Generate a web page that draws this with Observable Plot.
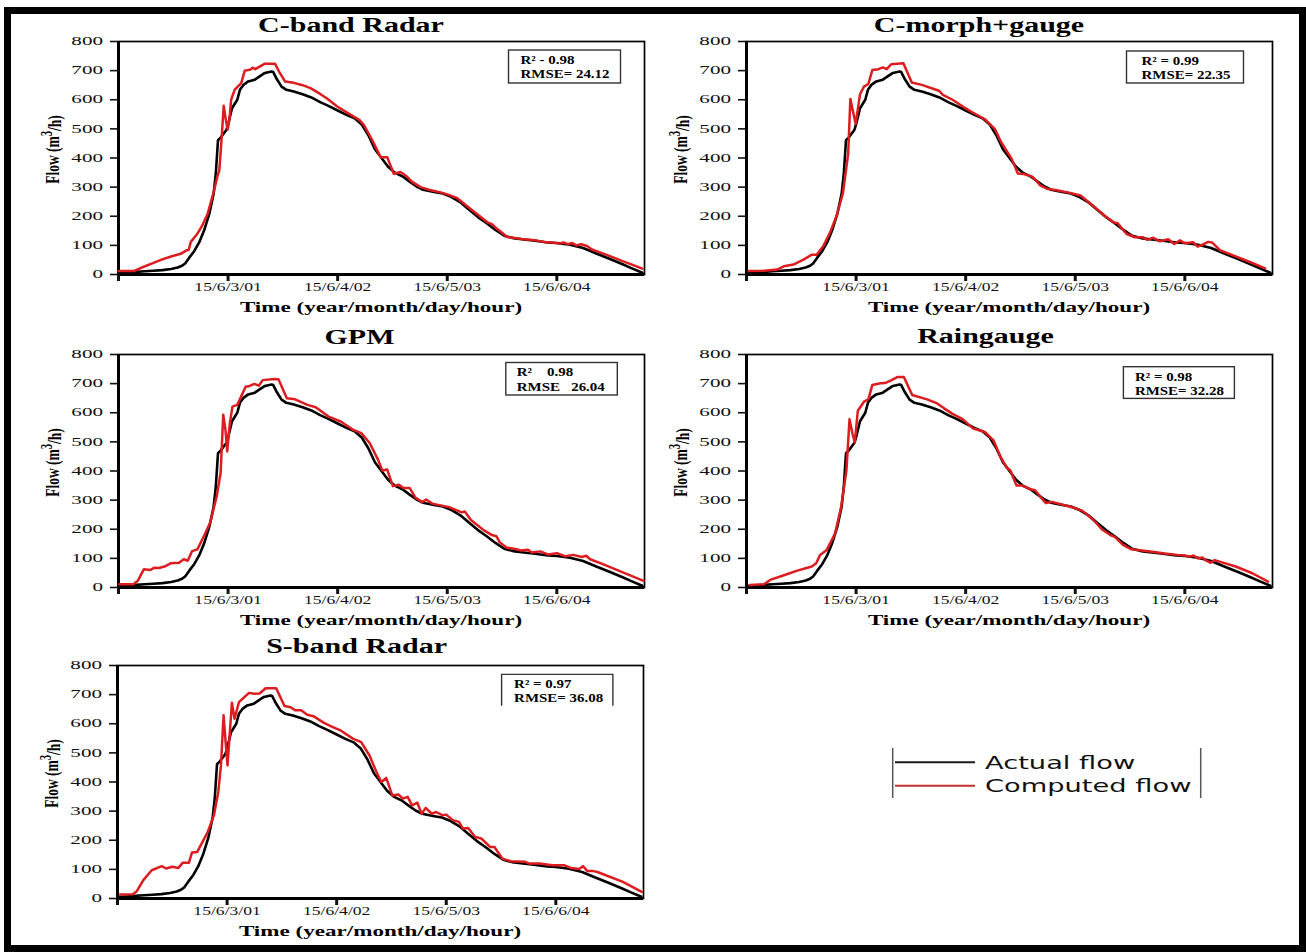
<!DOCTYPE html>
<html>
<head>
<meta charset="utf-8">
<script src="https://cdn.jsdelivr.net/npm/d3@7"></script>
<script src="https://cdn.jsdelivr.net/npm/@observablehq/plot@0.6"></script>
<style>
  html, body { margin: 0; padding: 0; background: #fff; }
  #page { position: relative; width: 1306px; height: 952px; overflow: hidden; background: #fff; }
  #border { position: absolute; left: 4px; top: 7px; width: 1302px; height: 945px; border: 7px solid #000; box-sizing: border-box; }
  .panel { position: absolute; }
  #legend { position: absolute; left: 0; top: 0; }
</style>
</head>
<body>
<div id="page"><div id="border"></div></div>
<script>
// ---------------- DATA ----------------
const titles = ["C-band Radar", "C-morph+gauge", "GPM", "Raingauge", "S-band Radar"];
const r2Labels = ["R\u00B2 - 0.98", "R\u00B2 = 0.99", "R\u00B2    0.98", "R\u00B2 = 0.98", "R\u00B2 = 0.97"];
const rmseLabels = ["RMSE= 24.12", "RMSE= 22.35", "RMSE   26.04", "RMSE= 32.28", "RMSE= 36.08"];
const xTickHours = [0, 25, 50, 75, 100];
const xTickLabels = ["", "15/6/3/01", "15/6/4/02", "15/6/5/03", "15/6/6/04"];
const yTicks = [0, 100, 200, 300, 400, 500, 600, 700, 800];
const legendLabels = ["Actual flow", "Computed flow"];

// [hour since start, flow m3/h]
const actualFlow = [[0,5],[2,7],[4,9],[6,11],[8,13],[10,15],[12,19],[13.5,24],[14.5,30],[15.2,38],[16.1,57],[17.3,81],[18.4,110],[19.5,150],[20.7,207],[21.7,277],[22.2,346],[22.7,461],[23.3,470],[24,484],[24.6,496],[25.1,521],[25.9,571],[26.6,588],[27.1,600],[27.7,634],[28.5,651],[29.6,663],[31.1,669],[32.2,680],[33.4,692],[34.9,697],[35.3,695],[36,674],[37.2,645],[38.3,634],[40,628],[42,619],[44,608],[46,592],[48,578],[50,563],[52,548],[54,535],[55.5,515],[57,478],[58.5,430],[60,400],[61.5,370],[63,350],[65,335],[66.5,318],[68,302],[69.5,291],[72,283],[74,278],[76,266],[78,248],[80,222],[82,197],[84,176],[86,153],[88,133],[90,125],[92,121],[95,116],[98,110],[100,108],[103,102],[106,91],[109,72],[112,54],[115,35],[117,22],[119.5,6]];

const cbandFlow = [[0,12],[3.6,12],[5.5,25],[8,40],[10,52],[12,62],[14.2,71],[15.5,83],[16,84],[16.5,112],[17.9,138],[19,165],[20.3,207],[21.8,288],[22.6,340],[23,357],[23.5,461],[24,579],[24.5,530],[24.9,498],[25.3,532],[25.7,600],[26.5,634],[27.2,645],[28,657],[28.8,700],[30,703],[30.6,710],[31.2,705],[32,712],[33.4,724],[35.7,724],[36.8,692],[38,663],[40,658],[42,650],[43.8,640],[46,620],[47.5,605],[49.9,577],[53,548],[55,530],[56,513],[57.9,461],[59.8,403],[61.3,403],[62.8,346],[64.3,352],[65.5,340],[67,318],[68.9,300],[71,290],[73.5,282],[75,275],[77.3,262],[79.9,230],[82,205],[84.3,178],[85.2,173],[86.5,155],[88.7,129],[92,122],[95,118],[97,112],[99,110],[100.5,106],[101.5,110],[102.5,104],[103.5,108],[104.5,100],[105.5,104],[106.9,98],[108,86],[110,75],[113,58],[115,46],[117,35],[119.5,20]];

const cmorphFlow = [[0.5,12],[4,13],[7,17],[8.5,28],[10.7,34],[13,51],[14.9,68],[16,68],[17.5,97],[19,142],[20.5,199],[22,279],[23.2,415],[23.7,603],[24.3,560],[24.9,517],[25.9,619],[26.8,645],[27.8,654],[28.7,702],[30.1,705],[31.1,711],[32,705],[33,722],[35.8,725],[37.7,659],[40,651],[43.9,631],[44.8,617],[47,600],[49.6,574],[51.5,557],[54.3,534],[56.7,499],[58.1,454],[60.5,397],[61.9,347],[63.3,345],[65.2,336],[67.1,305],[68.6,294],[70.5,290],[73.3,282],[76.2,271],[79,237],[81.9,199],[83.8,179],[84.7,176],[86.7,139],[88.6,128],[90.5,128],[91.4,119],[92.8,126],[94.3,114],[96.2,121],[97.6,105],[98.9,117],[100,107],[101.9,111],[102.9,96],[104.3,104],[105.3,112],[106.2,110],[108,84],[111.6,62],[115,42],[118.3,21]];

const gpmFlow = [[0.2,11],[3.4,11],[4.4,23],[5.8,63],[7.2,60],[8.2,68],[9.2,67],[10.5,72],[11.9,83],[13.8,85],[14.9,97],[15.8,92],[16.8,125],[18,131],[19.5,177],[20.9,222],[22.4,313],[23.3,393],[23.9,593],[24.4,541],[24.8,467],[25.4,564],[26,621],[27.1,627],[29,689],[29.9,692],[31,699],[32,693],[32.9,712],[35.6,716],[36.5,715],[38.4,650],[40.3,646],[43.1,627],[45,619],[47.9,587],[50.7,570],[53.6,541],[55.4,530],[57.3,496],[59.2,439],[60.2,402],[61.3,405],[62.6,348],[64,353],[65,342],[66.4,342],[67.8,308],[69.3,293],[70.2,302],[71.6,288],[75.4,276],[78.3,258],[79,261],[80.4,232],[83.3,197],[85.2,180],[86.2,176],[87,155],[88.5,137],[90.9,131],[91.8,127],[93.4,130],[94.3,120],[96.2,124],[98.1,113],[100,118],[102,107],[103.8,112],[105.7,105],[106.7,109],[107.6,97],[110.5,80],[115.2,51],[119.8,23]];

const raingaugeFlow = [[0.7,9],[4,11],[5.4,26],[8.7,43],[11.6,58],[13.5,66],[14.9,72],[15.9,83],[16.8,112],[18.3,129],[20.2,185],[21.6,277],[22.8,402],[23.5,578],[24.2,527],[24.7,498],[25.4,607],[26.8,638],[27.8,646],[28.7,695],[30.6,701],[31.6,702],[33,711],[34.5,723],[35.9,723],[37.8,661],[41.2,646],[43.5,632],[45,616],[46.9,597],[49.3,578],[51.6,547],[54.5,533],[56.4,504],[57.8,453],[59.3,413],[60.2,402],[61.6,350],[63,350],[64.5,339],[65.9,333],[67.4,305],[68.3,290],[69.7,294],[73.5,279],[76.4,265],[77.3,256],[79.2,231],[81.1,199],[83,180],[84,174],[85.9,146],[87.8,131],[92.6,123],[95.4,117],[98.3,112],[100,110],[101.1,106],[102,110],[103,100],[104,103],[104.9,92],[105.9,85],[106.8,94],[111.6,72],[115.4,49],[119,20]];

const sbandFlow = [[0.6,14],[3.5,15],[4.4,25],[5.9,63],[7.8,97],[10.1,111],[11.1,103],[12.5,109],[13.9,105],[14.9,123],[16.3,123],[17,158],[18.2,160],[20.6,229],[22,286],[23,366],[23.6,457],[24.2,629],[24.6,549],[25.1,457],[26.1,672],[26.7,617],[27.7,674],[30,706],[31.2,703],[32.4,704],[33.8,722],[36.2,722],[38.1,661],[39.5,657],[40.5,646],[41.9,646],[43.3,631],[44.7,626],[47.1,603],[49,589],[50.9,577],[53.7,549],[55.6,537],[57.5,491],[59,437],[60.2,400],[61.3,414],[62.7,354],[64.1,357],[65.1,343],[66.2,349],[67.2,320],[68.4,329],[69.4,291],[70.3,311],[71.7,291],[72.7,297],[74.1,286],[75,288],[76.5,269],[77.9,263],[78.8,240],[80,242],[81.6,211],[83,206],[85,177],[86,177],[87.8,137],[89.7,128],[93,126],[94,120],[96.3,120],[99.2,114],[102,114],[103.4,105],[105.3,101],[106.2,111],[107.2,94],[108.6,94],[109.5,91],[115.3,57],[119.6,23]];

const computedSeries = [cbandFlow, cmorphFlow, gpmFlow, raingaugeFlow, sbandFlow];

// ---------------- LAYOUT / STYLE ----------------
const SERIF = '"Liberation Serif", "Times New Roman", serif';
const RED = "#dd1c1f";
const ML = 100, MR = 12, MT = 45, MB = 50, PW = 526, PH = 233;
const layout = [
  {left: 117.5, top: 41.2, tDx: 233, tDy: -9.3, box: {x: 390.5, y: 9, w: 112, h: 33}, tx: 12, open: false},
  {left: 745.6, top: 40.8, tDx: 233, tDy: -9.2, box: {x: 380.5, y: 10, w: 117, h: 32}, tx: 15, open: false},
  {left: 117.7, top: 354.3, tDx: 241.5, tDy: -10.3, box: {x: 387.8, y: 8.5, w: 111.5, h: 32.5}, tx: 11, open: false},
  {left: 745.5, top: 353.5, tDx: 239.5, tDy: -11, box: {x: 377.4, y: 12.7, w: 111, h: 31.7}, tx: 11.5, open: false},
  {left: 117.4, top: 665.4, tDx: 239.6, tDy: -11.7, box: {x: 384.6, y: 9.4, w: 111.3, h: 31.3}, tx: 12.5, open: true}
];

function scaleText(el, s) {
  const t = el.getAttribute("transform");
  if (t) el.setAttribute("transform", t + ` scale(${s},1)`);
  else {
    const x = el.getAttribute("x") || 0, y = el.getAttribute("y") || 0;
    el.removeAttribute("x"); el.removeAttribute("y");
    el.setAttribute("transform", `translate(${x},${y}) scale(${s},1)`);
  }
}

const page = document.getElementById("page");

layout.forEach((L, i) => {
  const chart = Plot.plot({
    width: ML + PW + MR,
    height: MT + PH + MB,
    marginLeft: ML, marginRight: MR, marginTop: MT, marginBottom: MB,
    style: {fontFamily: SERIF, background: "transparent", overflow: "visible", maxWidth: "none", color: "#111"},
    x: {domain: [0, 120]},
    y: {domain: [0, 800]},
    marks: [
      Plot.frame({stroke: "#000", strokeWidth: 1.7}),
      Plot.axisY({ticks: yTicks, tickSize: 8, tickPadding: 7.5, strokeWidth: 1.6, fontSize: 11.6, label: null, tickFormat: d => String(d)}),
      Plot.axisX({ticks: xTickHours, tickSize: 7, tickPadding: 1, strokeWidth: 3, fontSize: 12.5, label: null,
                  tickFormat: d => xTickLabels[xTickHours.indexOf(d)]}),
      Plot.ruleX([0], {stroke: "#000", strokeWidth: 3}),
      Plot.ruleY([0], {stroke: "#000", strokeWidth: 3}),
      Plot.line(actualFlow, {x: d => d[0], y: d => d[1], stroke: "#000", strokeWidth: 2.6}),
      Plot.line(computedSeries[i], {x: d => d[0], y: d => d[1], stroke: RED, strokeWidth: 2.5})
    ]
  });
  const svgEl = chart.tagName.toLowerCase() === "svg" ? chart : chart.querySelector("svg");
  const svg = d3.select(svgEl);

  svg.selectAll('g[aria-label="y-axis tick label"] text').each(function () { scaleText(this, 1.82); });
  svg.selectAll('g[aria-label="x-axis tick label"] text').each(function () { scaleText(this, 1.41); });

  const g = svg.append("g").attr("font-family", SERIF).attr("fill", "#000");
  // title
  g.append("text")
    .attr("text-anchor", "middle").attr("font-weight", "bold").attr("font-size", 20)
    .attr("transform", `translate(${ML + L.tDx},${MT + L.tDy}) scale(1.5,1)`)
    .text(titles[i]);
  // x label
  g.append("text")
    .attr("text-anchor", "middle").attr("font-weight", "bold").attr("font-size", 14)
    .attr("transform", `translate(${ML + PW / 2},${MT + PH + 38}) scale(1.65,1)`)
    .text("Time (year/month/day/hour)");
  // y label
  const yl = g.append("text")
    .attr("text-anchor", "middle").attr("font-weight", "bold").attr("font-size", 13.5)
    .attr("transform", `translate(${ML - 59},${MT + PH / 2 - 8}) scale(1.45,1) rotate(-90)`);
  yl.append("tspan").text("Flow (m");
  yl.append("tspan").attr("dy", "-0.45em").attr("font-size", "0.8em").text("3");
  yl.append("tspan").attr("dy", "0.45em").text("/h)");
  // stats box
  const b = L.box;
  const bx = ML + b.x, by = MT + b.y;
  if (L.open) {
    g.append("path").attr("d", `M${bx},${by + b.h}V${by}H${bx + b.w}V${by + b.h}`)
      .attr("fill", "#fff").attr("stroke", "#333").attr("stroke-width", 1.4);
  } else {
    g.append("rect").attr("x", bx).attr("y", by).attr("width", b.w).attr("height", b.h)
      .attr("fill", "#fff").attr("stroke", "#333").attr("stroke-width", 1.4);
  }
  [r2Labels[i], rmseLabels[i]].forEach((s, k) => {
    g.append("text").attr("text-anchor", "start").attr("font-weight", "bold").attr("font-size", 11.5)
      .attr("xml:space", "preserve").style("white-space", "pre")
      .attr("transform", `translate(${bx + L.tx},${by + 13.8 + k * 14.2}) scale(1.3,1)`)
      .text(s);
  });

  const div = document.createElement("div");
  div.className = "panel";
  div.style.left = (L.left - ML) + "px";
  div.style.top = (L.top - MT) + "px";
  div.appendChild(chart);
  page.appendChild(div);
});

// ---------------- LEGEND ----------------
const lg = d3.select(page).append("svg").attr("id", "legend").attr("width", 1306).attr("height", 952);
lg.append("line").attr("x1", 892.7).attr("x2", 892.7).attr("y1", 748).attr("y2", 798).attr("stroke", "#555").attr("stroke-width", 1.5);
lg.append("line").attr("x1", 1200.7).attr("x2", 1200.7).attr("y1", 748).attr("y2", 798).attr("stroke", "#555").attr("stroke-width", 1.5);
const legendColors = ["#1a1a1a", "#c0302f"];
legendLabels.forEach((s, k) => {
  const cy = 762.2 + k * 23.6;
  lg.append("line").attr("x1", 895).attr("x2", 975).attr("y1", cy).attr("y2", cy)
    .attr("stroke", legendColors[k]).attr("stroke-width", 2);
  lg.append("text").attr("font-family", '"DejaVu Sans", Verdana, sans-serif').attr("font-size", 18.3).attr("fill", "#111")
    .attr("transform", `translate(985,${cy + 6.5}) scale(1.49,1)`)
    .text(s);
});
</script>
</body>
</html>
